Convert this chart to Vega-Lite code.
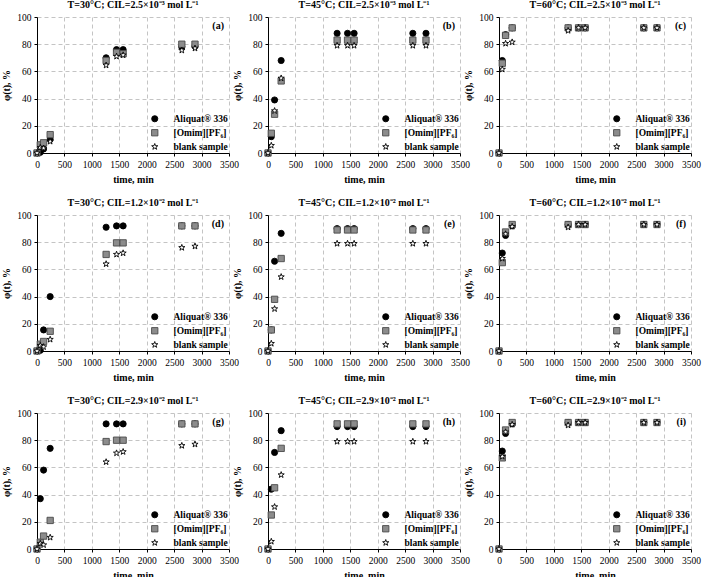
{
  "$schema": "https://vega.github.io/schema/vega-lite/v6.json",
  "padding": {"left": 1, "top": 0, "right": 5, "bottom": 0},
  "background": "white",
  "datasets": {
    "phi": [
      {"panel":"a","sample":"Aliquat® 336","time":0,"phi":0},{"panel":"a","sample":"Aliquat® 336","time":60,"phi":0.5},{"panel":"a","sample":"Aliquat® 336","time":120,"phi":3},{"panel":"a","sample":"Aliquat® 336","time":240,"phi":10},{"panel":"a","sample":"Aliquat® 336","time":1260,"phi":70},{"panel":"a","sample":"Aliquat® 336","time":1450,"phi":76},{"panel":"a","sample":"Aliquat® 336","time":1570,"phi":76},{"panel":"a","sample":"Aliquat® 336","time":2640,"phi":78},{"panel":"a","sample":"Aliquat® 336","time":2880,"phi":78.5},
      {"panel":"a","sample":"[Omim][PF₆]","time":0,"phi":0},{"panel":"a","sample":"[Omim][PF₆]","time":60,"phi":6},{"panel":"a","sample":"[Omim][PF₆]","time":120,"phi":7.5},{"panel":"a","sample":"[Omim][PF₆]","time":240,"phi":13.5},{"panel":"a","sample":"[Omim][PF₆]","time":1260,"phi":68},{"panel":"a","sample":"[Omim][PF₆]","time":1450,"phi":74},{"panel":"a","sample":"[Omim][PF₆]","time":1570,"phi":73},{"panel":"a","sample":"[Omim][PF₆]","time":2640,"phi":80},{"panel":"a","sample":"[Omim][PF₆]","time":2880,"phi":80},
      {"panel":"a","sample":"blank sample","time":0,"phi":0},{"panel":"a","sample":"blank sample","time":60,"phi":4},{"panel":"a","sample":"blank sample","time":120,"phi":3.5},{"panel":"a","sample":"blank sample","time":240,"phi":8.5},{"panel":"a","sample":"blank sample","time":1260,"phi":64.5},{"panel":"a","sample":"blank sample","time":1450,"phi":71},{"panel":"a","sample":"blank sample","time":1570,"phi":72},{"panel":"a","sample":"blank sample","time":2640,"phi":75.5},{"panel":"a","sample":"blank sample","time":2880,"phi":77},

      {"panel":"b","sample":"Aliquat® 336","time":0,"phi":0},{"panel":"b","sample":"Aliquat® 336","time":60,"phi":12},{"panel":"b","sample":"Aliquat® 336","time":120,"phi":39},{"panel":"b","sample":"Aliquat® 336","time":240,"phi":68},{"panel":"b","sample":"Aliquat® 336","time":1260,"phi":88},{"panel":"b","sample":"Aliquat® 336","time":1450,"phi":88},{"panel":"b","sample":"Aliquat® 336","time":1570,"phi":88},{"panel":"b","sample":"Aliquat® 336","time":2640,"phi":88},{"panel":"b","sample":"Aliquat® 336","time":2880,"phi":88},
      {"panel":"b","sample":"[Omim][PF₆]","time":0,"phi":0},{"panel":"b","sample":"[Omim][PF₆]","time":60,"phi":14.5},{"panel":"b","sample":"[Omim][PF₆]","time":120,"phi":28.5},{"panel":"b","sample":"[Omim][PF₆]","time":240,"phi":53},{"panel":"b","sample":"[Omim][PF₆]","time":1260,"phi":83},{"panel":"b","sample":"[Omim][PF₆]","time":1450,"phi":83},{"panel":"b","sample":"[Omim][PF₆]","time":1570,"phi":83},{"panel":"b","sample":"[Omim][PF₆]","time":2640,"phi":83},{"panel":"b","sample":"[Omim][PF₆]","time":2880,"phi":83},
      {"panel":"b","sample":"blank sample","time":0,"phi":0},{"panel":"b","sample":"blank sample","time":60,"phi":5.5},{"panel":"b","sample":"blank sample","time":120,"phi":31},{"panel":"b","sample":"blank sample","time":240,"phi":55},{"panel":"b","sample":"blank sample","time":1260,"phi":79},{"panel":"b","sample":"blank sample","time":1450,"phi":79},{"panel":"b","sample":"blank sample","time":1570,"phi":79},{"panel":"b","sample":"blank sample","time":2640,"phi":79},{"panel":"b","sample":"blank sample","time":2880,"phi":79},

      {"panel":"c","sample":"Aliquat® 336","time":0,"phi":0},{"panel":"c","sample":"Aliquat® 336","time":60,"phi":68},{"panel":"c","sample":"Aliquat® 336","time":120,"phi":87},{"panel":"c","sample":"Aliquat® 336","time":240,"phi":92},{"panel":"c","sample":"Aliquat® 336","time":1260,"phi":92},{"panel":"c","sample":"Aliquat® 336","time":1450,"phi":92},{"panel":"c","sample":"Aliquat® 336","time":1570,"phi":92},{"panel":"c","sample":"Aliquat® 336","time":2640,"phi":92},{"panel":"c","sample":"Aliquat® 336","time":2880,"phi":92},
      {"panel":"c","sample":"[Omim][PF₆]","time":0,"phi":0},{"panel":"c","sample":"[Omim][PF₆]","time":60,"phi":66},{"panel":"c","sample":"[Omim][PF₆]","time":120,"phi":86.5},{"panel":"c","sample":"[Omim][PF₆]","time":240,"phi":92},{"panel":"c","sample":"[Omim][PF₆]","time":1260,"phi":92},{"panel":"c","sample":"[Omim][PF₆]","time":1450,"phi":92},{"panel":"c","sample":"[Omim][PF₆]","time":1570,"phi":92},{"panel":"c","sample":"[Omim][PF₆]","time":2640,"phi":92},{"panel":"c","sample":"[Omim][PF₆]","time":2880,"phi":92},
      {"panel":"c","sample":"blank sample","time":0,"phi":0},{"panel":"c","sample":"blank sample","time":60,"phi":61.5},{"panel":"c","sample":"blank sample","time":120,"phi":80.5},{"panel":"c","sample":"blank sample","time":240,"phi":81.5},{"panel":"c","sample":"blank sample","time":1260,"phi":90},{"panel":"c","sample":"blank sample","time":1450,"phi":92},{"panel":"c","sample":"blank sample","time":1570,"phi":92},{"panel":"c","sample":"blank sample","time":2640,"phi":92},{"panel":"c","sample":"blank sample","time":2880,"phi":92},

      {"panel":"d","sample":"Aliquat® 336","time":0,"phi":0},{"panel":"d","sample":"Aliquat® 336","time":60,"phi":0.5},{"panel":"d","sample":"Aliquat® 336","time":120,"phi":15.5},{"panel":"d","sample":"Aliquat® 336","time":240,"phi":40},{"panel":"d","sample":"Aliquat® 336","time":1260,"phi":91},{"panel":"d","sample":"Aliquat® 336","time":1450,"phi":92},{"panel":"d","sample":"Aliquat® 336","time":1570,"phi":92},{"panel":"d","sample":"Aliquat® 336","time":2640,"phi":92},{"panel":"d","sample":"Aliquat® 336","time":2880,"phi":92},
      {"panel":"d","sample":"[Omim][PF₆]","time":0,"phi":0},{"panel":"d","sample":"[Omim][PF₆]","time":60,"phi":5},{"panel":"d","sample":"[Omim][PF₆]","time":120,"phi":7},{"panel":"d","sample":"[Omim][PF₆]","time":240,"phi":14.5},{"panel":"d","sample":"[Omim][PF₆]","time":1260,"phi":71},{"panel":"d","sample":"[Omim][PF₆]","time":1450,"phi":79.5},{"panel":"d","sample":"[Omim][PF₆]","time":1570,"phi":79.5},{"panel":"d","sample":"[Omim][PF₆]","time":2640,"phi":92},{"panel":"d","sample":"[Omim][PF₆]","time":2880,"phi":92},
      {"panel":"d","sample":"blank sample","time":0,"phi":0},{"panel":"d","sample":"blank sample","time":60,"phi":4},{"panel":"d","sample":"blank sample","time":120,"phi":3},{"panel":"d","sample":"blank sample","time":240,"phi":8.5},{"panel":"d","sample":"blank sample","time":1260,"phi":64},{"panel":"d","sample":"blank sample","time":1450,"phi":71},{"panel":"d","sample":"blank sample","time":1570,"phi":72},{"panel":"d","sample":"blank sample","time":2640,"phi":76},{"panel":"d","sample":"blank sample","time":2880,"phi":77},

      {"panel":"e","sample":"Aliquat® 336","time":0,"phi":0},{"panel":"e","sample":"Aliquat® 336","time":60,"phi":15.5},{"panel":"e","sample":"Aliquat® 336","time":120,"phi":66},{"panel":"e","sample":"Aliquat® 336","time":240,"phi":86.5},{"panel":"e","sample":"Aliquat® 336","time":1260,"phi":90},{"panel":"e","sample":"Aliquat® 336","time":1450,"phi":90},{"panel":"e","sample":"Aliquat® 336","time":1570,"phi":90},{"panel":"e","sample":"Aliquat® 336","time":2640,"phi":90},{"panel":"e","sample":"Aliquat® 336","time":2880,"phi":90},
      {"panel":"e","sample":"[Omim][PF₆]","time":0,"phi":0},{"panel":"e","sample":"[Omim][PF₆]","time":60,"phi":15.5},{"panel":"e","sample":"[Omim][PF₆]","time":120,"phi":38},{"panel":"e","sample":"[Omim][PF₆]","time":240,"phi":68},{"panel":"e","sample":"[Omim][PF₆]","time":1260,"phi":89},{"panel":"e","sample":"[Omim][PF₆]","time":1450,"phi":89},{"panel":"e","sample":"[Omim][PF₆]","time":1570,"phi":89},{"panel":"e","sample":"[Omim][PF₆]","time":2640,"phi":89},{"panel":"e","sample":"[Omim][PF₆]","time":2880,"phi":89},
      {"panel":"e","sample":"blank sample","time":0,"phi":0},{"panel":"e","sample":"blank sample","time":60,"phi":5.5},{"panel":"e","sample":"blank sample","time":120,"phi":31},{"panel":"e","sample":"blank sample","time":240,"phi":54.5},{"panel":"e","sample":"blank sample","time":1260,"phi":79},{"panel":"e","sample":"blank sample","time":1450,"phi":79},{"panel":"e","sample":"blank sample","time":1570,"phi":79},{"panel":"e","sample":"blank sample","time":2640,"phi":79},{"panel":"e","sample":"blank sample","time":2880,"phi":79},

      {"panel":"f","sample":"Aliquat® 336","time":0,"phi":0},{"panel":"f","sample":"Aliquat® 336","time":60,"phi":72},{"panel":"f","sample":"Aliquat® 336","time":120,"phi":85},{"panel":"f","sample":"Aliquat® 336","time":240,"phi":92},{"panel":"f","sample":"Aliquat® 336","time":1260,"phi":93},{"panel":"f","sample":"Aliquat® 336","time":1450,"phi":93},{"panel":"f","sample":"Aliquat® 336","time":1570,"phi":93},{"panel":"f","sample":"Aliquat® 336","time":2640,"phi":93},{"panel":"f","sample":"Aliquat® 336","time":2880,"phi":93},
      {"panel":"f","sample":"[Omim][PF₆]","time":0,"phi":0},{"panel":"f","sample":"[Omim][PF₆]","time":60,"phi":65},{"panel":"f","sample":"[Omim][PF₆]","time":120,"phi":87.5},{"panel":"f","sample":"[Omim][PF₆]","time":240,"phi":93},{"panel":"f","sample":"[Omim][PF₆]","time":1260,"phi":93},{"panel":"f","sample":"[Omim][PF₆]","time":1450,"phi":93},{"panel":"f","sample":"[Omim][PF₆]","time":1570,"phi":93},{"panel":"f","sample":"[Omim][PF₆]","time":2640,"phi":93},{"panel":"f","sample":"[Omim][PF₆]","time":2880,"phi":93},
      {"panel":"f","sample":"blank sample","time":0,"phi":0},{"panel":"f","sample":"blank sample","time":60,"phi":68},{"panel":"f","sample":"blank sample","time":120,"phi":86},{"panel":"f","sample":"blank sample","time":240,"phi":91.5},{"panel":"f","sample":"blank sample","time":1260,"phi":91},{"panel":"f","sample":"blank sample","time":1450,"phi":93},{"panel":"f","sample":"blank sample","time":1570,"phi":93},{"panel":"f","sample":"blank sample","time":2640,"phi":93},{"panel":"f","sample":"blank sample","time":2880,"phi":93},

      {"panel":"g","sample":"Aliquat® 336","time":0,"phi":0},{"panel":"g","sample":"Aliquat® 336","time":60,"phi":37},{"panel":"g","sample":"Aliquat® 336","time":120,"phi":58},{"panel":"g","sample":"Aliquat® 336","time":240,"phi":74},{"panel":"g","sample":"Aliquat® 336","time":1260,"phi":92},{"panel":"g","sample":"Aliquat® 336","time":1450,"phi":92},{"panel":"g","sample":"Aliquat® 336","time":1570,"phi":92},{"panel":"g","sample":"Aliquat® 336","time":2640,"phi":92},{"panel":"g","sample":"Aliquat® 336","time":2880,"phi":92},
      {"panel":"g","sample":"[Omim][PF₆]","time":0,"phi":0},{"panel":"g","sample":"[Omim][PF₆]","time":60,"phi":5},{"panel":"g","sample":"[Omim][PF₆]","time":120,"phi":9.5},{"panel":"g","sample":"[Omim][PF₆]","time":240,"phi":21},{"panel":"g","sample":"[Omim][PF₆]","time":1260,"phi":79},{"panel":"g","sample":"[Omim][PF₆]","time":1450,"phi":80},{"panel":"g","sample":"[Omim][PF₆]","time":1570,"phi":80},{"panel":"g","sample":"[Omim][PF₆]","time":2640,"phi":92},{"panel":"g","sample":"[Omim][PF₆]","time":2880,"phi":92},
      {"panel":"g","sample":"blank sample","time":0,"phi":0},{"panel":"g","sample":"blank sample","time":60,"phi":4},{"panel":"g","sample":"blank sample","time":120,"phi":3},{"panel":"g","sample":"blank sample","time":240,"phi":8.5},{"panel":"g","sample":"blank sample","time":1260,"phi":64},{"panel":"g","sample":"blank sample","time":1450,"phi":70.5},{"panel":"g","sample":"blank sample","time":1570,"phi":71.5},{"panel":"g","sample":"blank sample","time":2640,"phi":76},{"panel":"g","sample":"blank sample","time":2880,"phi":77},

      {"panel":"h","sample":"Aliquat® 336","time":0,"phi":0},{"panel":"h","sample":"Aliquat® 336","time":60,"phi":44},{"panel":"h","sample":"Aliquat® 336","time":120,"phi":71},{"panel":"h","sample":"Aliquat® 336","time":240,"phi":87},{"panel":"h","sample":"Aliquat® 336","time":1260,"phi":90},{"panel":"h","sample":"Aliquat® 336","time":1450,"phi":90},{"panel":"h","sample":"Aliquat® 336","time":1570,"phi":90},{"panel":"h","sample":"Aliquat® 336","time":2640,"phi":90},{"panel":"h","sample":"Aliquat® 336","time":2880,"phi":90},
      {"panel":"h","sample":"[Omim][PF₆]","time":0,"phi":0},{"panel":"h","sample":"[Omim][PF₆]","time":60,"phi":25},{"panel":"h","sample":"[Omim][PF₆]","time":120,"phi":45},{"panel":"h","sample":"[Omim][PF₆]","time":240,"phi":74},{"panel":"h","sample":"[Omim][PF₆]","time":1260,"phi":92},{"panel":"h","sample":"[Omim][PF₆]","time":1450,"phi":92},{"panel":"h","sample":"[Omim][PF₆]","time":1570,"phi":92},{"panel":"h","sample":"[Omim][PF₆]","time":2640,"phi":92},{"panel":"h","sample":"[Omim][PF₆]","time":2880,"phi":92},
      {"panel":"h","sample":"blank sample","time":0,"phi":0},{"panel":"h","sample":"blank sample","time":60,"phi":5.5},{"panel":"h","sample":"blank sample","time":120,"phi":31},{"panel":"h","sample":"blank sample","time":240,"phi":54.5},{"panel":"h","sample":"blank sample","time":1260,"phi":79},{"panel":"h","sample":"blank sample","time":1450,"phi":79},{"panel":"h","sample":"blank sample","time":1570,"phi":79},{"panel":"h","sample":"blank sample","time":2640,"phi":79},{"panel":"h","sample":"blank sample","time":2880,"phi":79},

      {"panel":"i","sample":"Aliquat® 336","time":0,"phi":0},{"panel":"i","sample":"Aliquat® 336","time":60,"phi":72},{"panel":"i","sample":"Aliquat® 336","time":120,"phi":85},{"panel":"i","sample":"Aliquat® 336","time":240,"phi":92},{"panel":"i","sample":"Aliquat® 336","time":1260,"phi":93},{"panel":"i","sample":"Aliquat® 336","time":1450,"phi":93},{"panel":"i","sample":"Aliquat® 336","time":1570,"phi":93},{"panel":"i","sample":"Aliquat® 336","time":2640,"phi":93},{"panel":"i","sample":"Aliquat® 336","time":2880,"phi":93},
      {"panel":"i","sample":"[Omim][PF₆]","time":0,"phi":0},{"panel":"i","sample":"[Omim][PF₆]","time":60,"phi":67},{"panel":"i","sample":"[Omim][PF₆]","time":120,"phi":87.5},{"panel":"i","sample":"[Omim][PF₆]","time":240,"phi":93},{"panel":"i","sample":"[Omim][PF₆]","time":1260,"phi":93},{"panel":"i","sample":"[Omim][PF₆]","time":1450,"phi":93},{"panel":"i","sample":"[Omim][PF₆]","time":1570,"phi":93},{"panel":"i","sample":"[Omim][PF₆]","time":2640,"phi":93},{"panel":"i","sample":"[Omim][PF₆]","time":2880,"phi":93},
      {"panel":"i","sample":"blank sample","time":0,"phi":0},{"panel":"i","sample":"blank sample","time":60,"phi":68},{"panel":"i","sample":"blank sample","time":120,"phi":86},{"panel":"i","sample":"blank sample","time":240,"phi":91.5},{"panel":"i","sample":"blank sample","time":1260,"phi":91},{"panel":"i","sample":"blank sample","time":1450,"phi":93},{"panel":"i","sample":"blank sample","time":1570,"phi":93},{"panel":"i","sample":"blank sample","time":2640,"phi":93},{"panel":"i","sample":"blank sample","time":2880,"phi":93}
    ]
  },
  "columns": 3,
  "bounds": "flush",
  "spacing": {"row": 62, "column": 39},
  "resolve": {"legend": {"shape": "independent", "fill": "independent", "stroke": "independent", "size": "independent"}},
  "concat": [
    {"title": "T=30°C; CIL=2.5×10⁻³ mol L⁻¹", "width": 192, "height": 136, "layer": [
      {"data": {"name": "phi"}, "transform": [{"filter": "datum.panel == 'a'"}], "mark": {"type": "point", "filled": true, "opacity": 1, "strokeWidth": 0.9},
       "encoding": {
         "x": {"field": "time", "type": "quantitative", "scale": {"domain": [0, 3500]}, "axis": {"values": [0,500,1000,1500,2000,2500,3000,3500], "tickCount": 20, "title": "time, min"}},
         "y": {"field": "phi", "type": "quantitative", "scale": {"domain": [0, 100]}, "axis": {"values": [0,20,40,60,80,100], "tickCount": 20, "title": "φ(t), %"}},
         "shape": {"field": "sample", "type": "nominal", "sort": null, "scale": {"domain": ["Aliquat® 336", "[Omim][PF₆]", "blank sample"], "range": ["circle", "square", "M0,-1L0.235,-0.324L0.951,-0.309L0.38,0.124L0.588,0.809L0,0.4L-0.588,0.809L-0.38,0.124L-0.951,-0.309L-0.235,-0.324Z"]}, "legend": {"title": null}},
         "fill": {"field": "sample", "type": "nominal", "sort": null, "scale": {"domain": ["Aliquat® 336", "[Omim][PF₆]", "blank sample"], "range": ["#000000", "#8c8c8c", "#ffffff"]}, "legend": {"title": null}},
         "stroke": {"field": "sample", "type": "nominal", "sort": null, "scale": {"domain": ["Aliquat® 336", "[Omim][PF₆]", "blank sample"], "range": ["#000000", "#4a4a4a", "#000000"]}, "legend": {"title": null}},
         "size": {"field": "sample", "type": "nominal", "sort": null, "scale": {"domain": ["Aliquat® 336", "[Omim][PF₆]", "blank sample"], "range": [38, 42, 85]}, "legend": {"title": null}}
       }},
      {"data": {"values": [{"tag": "(a)"}]}, "mark": {"type": "text", "align": "right", "baseline": "top", "dx": -5, "dy": 4, "fontWeight": "bold", "fontSize": 10, "font": "Liberation Serif"},
       "encoding": {"x": {"datum": 3500, "axis": {"values": [0,500,1000,1500,2000,2500,3000,3500], "tickCount": 20, "title": "time, min"}}, "y": {"datum": 100, "axis": {"values": [0,20,40,60,80,100], "tickCount": 20, "title": "φ(t), %"}}, "text": {"field": "tag"}}}
    ]},
    {"title": "T=45°C; CIL=2.5×10⁻³ mol L⁻¹", "width": 192, "height": 136, "layer": [
      {"data": {"name": "phi"}, "transform": [{"filter": "datum.panel == 'b'"}], "mark": {"type": "point", "filled": true, "opacity": 1, "strokeWidth": 0.9},
       "encoding": {
         "x": {"field": "time", "type": "quantitative", "scale": {"domain": [0, 3500]}, "axis": {"values": [0,500,1000,1500,2000,2500,3000,3500], "tickCount": 20, "title": "time, min"}},
         "y": {"field": "phi", "type": "quantitative", "scale": {"domain": [0, 100]}, "axis": {"values": [0,20,40,60,80,100], "tickCount": 20, "title": "φ(t), %"}},
         "shape": {"field": "sample", "type": "nominal", "sort": null, "scale": {"domain": ["Aliquat® 336", "[Omim][PF₆]", "blank sample"], "range": ["circle", "square", "M0,-1L0.235,-0.324L0.951,-0.309L0.38,0.124L0.588,0.809L0,0.4L-0.588,0.809L-0.38,0.124L-0.951,-0.309L-0.235,-0.324Z"]}, "legend": {"title": null}},
         "fill": {"field": "sample", "type": "nominal", "sort": null, "scale": {"domain": ["Aliquat® 336", "[Omim][PF₆]", "blank sample"], "range": ["#000000", "#8c8c8c", "#ffffff"]}, "legend": {"title": null}},
         "stroke": {"field": "sample", "type": "nominal", "sort": null, "scale": {"domain": ["Aliquat® 336", "[Omim][PF₆]", "blank sample"], "range": ["#000000", "#4a4a4a", "#000000"]}, "legend": {"title": null}},
         "size": {"field": "sample", "type": "nominal", "sort": null, "scale": {"domain": ["Aliquat® 336", "[Omim][PF₆]", "blank sample"], "range": [38, 42, 85]}, "legend": {"title": null}}
       }},
      {"data": {"values": [{"tag": "(b)"}]}, "mark": {"type": "text", "align": "right", "baseline": "top", "dx": -5, "dy": 4, "fontWeight": "bold", "fontSize": 10, "font": "Liberation Serif"},
       "encoding": {"x": {"datum": 3500, "axis": {"values": [0,500,1000,1500,2000,2500,3000,3500], "tickCount": 20, "title": "time, min"}}, "y": {"datum": 100, "axis": {"values": [0,20,40,60,80,100], "tickCount": 20, "title": "φ(t), %"}}, "text": {"field": "tag"}}}
    ]},
    {"title": "T=60°C; CIL=2.5×10⁻³ mol L⁻¹", "width": 192, "height": 136, "layer": [
      {"data": {"name": "phi"}, "transform": [{"filter": "datum.panel == 'c'"}], "mark": {"type": "point", "filled": true, "opacity": 1, "strokeWidth": 0.9},
       "encoding": {
         "x": {"field": "time", "type": "quantitative", "scale": {"domain": [0, 3500]}, "axis": {"values": [0,500,1000,1500,2000,2500,3000,3500], "tickCount": 20, "title": "time, min"}},
         "y": {"field": "phi", "type": "quantitative", "scale": {"domain": [0, 100]}, "axis": {"values": [0,20,40,60,80,100], "tickCount": 20, "title": "φ(t), %"}},
         "shape": {"field": "sample", "type": "nominal", "sort": null, "scale": {"domain": ["Aliquat® 336", "[Omim][PF₆]", "blank sample"], "range": ["circle", "square", "M0,-1L0.235,-0.324L0.951,-0.309L0.38,0.124L0.588,0.809L0,0.4L-0.588,0.809L-0.38,0.124L-0.951,-0.309L-0.235,-0.324Z"]}, "legend": {"title": null}},
         "fill": {"field": "sample", "type": "nominal", "sort": null, "scale": {"domain": ["Aliquat® 336", "[Omim][PF₆]", "blank sample"], "range": ["#000000", "#8c8c8c", "#ffffff"]}, "legend": {"title": null}},
         "stroke": {"field": "sample", "type": "nominal", "sort": null, "scale": {"domain": ["Aliquat® 336", "[Omim][PF₆]", "blank sample"], "range": ["#000000", "#4a4a4a", "#000000"]}, "legend": {"title": null}},
         "size": {"field": "sample", "type": "nominal", "sort": null, "scale": {"domain": ["Aliquat® 336", "[Omim][PF₆]", "blank sample"], "range": [38, 42, 85]}, "legend": {"title": null}}
       }},
      {"data": {"values": [{"tag": "(c)"}]}, "mark": {"type": "text", "align": "right", "baseline": "top", "dx": -5, "dy": 4, "fontWeight": "bold", "fontSize": 10, "font": "Liberation Serif"},
       "encoding": {"x": {"datum": 3500, "axis": {"values": [0,500,1000,1500,2000,2500,3000,3500], "tickCount": 20, "title": "time, min"}}, "y": {"datum": 100, "axis": {"values": [0,20,40,60,80,100], "tickCount": 20, "title": "φ(t), %"}}, "text": {"field": "tag"}}}
    ]},
    {"title": "T=30°C; CIL=1.2×10⁻² mol L⁻¹", "width": 192, "height": 136, "layer": [
      {"data": {"name": "phi"}, "transform": [{"filter": "datum.panel == 'd'"}], "mark": {"type": "point", "filled": true, "opacity": 1, "strokeWidth": 0.9},
       "encoding": {
         "x": {"field": "time", "type": "quantitative", "scale": {"domain": [0, 3500]}, "axis": {"values": [0,500,1000,1500,2000,2500,3000,3500], "tickCount": 20, "title": "time, min"}},
         "y": {"field": "phi", "type": "quantitative", "scale": {"domain": [0, 100]}, "axis": {"values": [0,20,40,60,80,100], "tickCount": 20, "title": "φ(t), %"}},
         "shape": {"field": "sample", "type": "nominal", "sort": null, "scale": {"domain": ["Aliquat® 336", "[Omim][PF₆]", "blank sample"], "range": ["circle", "square", "M0,-1L0.235,-0.324L0.951,-0.309L0.38,0.124L0.588,0.809L0,0.4L-0.588,0.809L-0.38,0.124L-0.951,-0.309L-0.235,-0.324Z"]}, "legend": {"title": null}},
         "fill": {"field": "sample", "type": "nominal", "sort": null, "scale": {"domain": ["Aliquat® 336", "[Omim][PF₆]", "blank sample"], "range": ["#000000", "#8c8c8c", "#ffffff"]}, "legend": {"title": null}},
         "stroke": {"field": "sample", "type": "nominal", "sort": null, "scale": {"domain": ["Aliquat® 336", "[Omim][PF₆]", "blank sample"], "range": ["#000000", "#4a4a4a", "#000000"]}, "legend": {"title": null}},
         "size": {"field": "sample", "type": "nominal", "sort": null, "scale": {"domain": ["Aliquat® 336", "[Omim][PF₆]", "blank sample"], "range": [38, 42, 85]}, "legend": {"title": null}}
       }},
      {"data": {"values": [{"tag": "(d)"}]}, "mark": {"type": "text", "align": "right", "baseline": "top", "dx": -5, "dy": 4, "fontWeight": "bold", "fontSize": 10, "font": "Liberation Serif"},
       "encoding": {"x": {"datum": 3500, "axis": {"values": [0,500,1000,1500,2000,2500,3000,3500], "tickCount": 20, "title": "time, min"}}, "y": {"datum": 100, "axis": {"values": [0,20,40,60,80,100], "tickCount": 20, "title": "φ(t), %"}}, "text": {"field": "tag"}}}
    ]},
    {"title": "T=45°C; CIL=1.2×10⁻² mol L⁻¹", "width": 192, "height": 136, "layer": [
      {"data": {"name": "phi"}, "transform": [{"filter": "datum.panel == 'e'"}], "mark": {"type": "point", "filled": true, "opacity": 1, "strokeWidth": 0.9},
       "encoding": {
         "x": {"field": "time", "type": "quantitative", "scale": {"domain": [0, 3500]}, "axis": {"values": [0,500,1000,1500,2000,2500,3000,3500], "tickCount": 20, "title": "time, min"}},
         "y": {"field": "phi", "type": "quantitative", "scale": {"domain": [0, 100]}, "axis": {"values": [0,20,40,60,80,100], "tickCount": 20, "title": "φ(t), %"}},
         "shape": {"field": "sample", "type": "nominal", "sort": null, "scale": {"domain": ["Aliquat® 336", "[Omim][PF₆]", "blank sample"], "range": ["circle", "square", "M0,-1L0.235,-0.324L0.951,-0.309L0.38,0.124L0.588,0.809L0,0.4L-0.588,0.809L-0.38,0.124L-0.951,-0.309L-0.235,-0.324Z"]}, "legend": {"title": null}},
         "fill": {"field": "sample", "type": "nominal", "sort": null, "scale": {"domain": ["Aliquat® 336", "[Omim][PF₆]", "blank sample"], "range": ["#000000", "#8c8c8c", "#ffffff"]}, "legend": {"title": null}},
         "stroke": {"field": "sample", "type": "nominal", "sort": null, "scale": {"domain": ["Aliquat® 336", "[Omim][PF₆]", "blank sample"], "range": ["#000000", "#4a4a4a", "#000000"]}, "legend": {"title": null}},
         "size": {"field": "sample", "type": "nominal", "sort": null, "scale": {"domain": ["Aliquat® 336", "[Omim][PF₆]", "blank sample"], "range": [38, 42, 85]}, "legend": {"title": null}}
       }},
      {"data": {"values": [{"tag": "(e)"}]}, "mark": {"type": "text", "align": "right", "baseline": "top", "dx": -5, "dy": 4, "fontWeight": "bold", "fontSize": 10, "font": "Liberation Serif"},
       "encoding": {"x": {"datum": 3500, "axis": {"values": [0,500,1000,1500,2000,2500,3000,3500], "tickCount": 20, "title": "time, min"}}, "y": {"datum": 100, "axis": {"values": [0,20,40,60,80,100], "tickCount": 20, "title": "φ(t), %"}}, "text": {"field": "tag"}}}
    ]},
    {"title": "T=60°C; CIL=1.2×10⁻² mol L⁻¹", "width": 192, "height": 136, "layer": [
      {"data": {"name": "phi"}, "transform": [{"filter": "datum.panel == 'f'"}], "mark": {"type": "point", "filled": true, "opacity": 1, "strokeWidth": 0.9},
       "encoding": {
         "x": {"field": "time", "type": "quantitative", "scale": {"domain": [0, 3500]}, "axis": {"values": [0,500,1000,1500,2000,2500,3000,3500], "tickCount": 20, "title": "time, min"}},
         "y": {"field": "phi", "type": "quantitative", "scale": {"domain": [0, 100]}, "axis": {"values": [0,20,40,60,80,100], "tickCount": 20, "title": "φ(t), %"}},
         "shape": {"field": "sample", "type": "nominal", "sort": null, "scale": {"domain": ["Aliquat® 336", "[Omim][PF₆]", "blank sample"], "range": ["circle", "square", "M0,-1L0.235,-0.324L0.951,-0.309L0.38,0.124L0.588,0.809L0,0.4L-0.588,0.809L-0.38,0.124L-0.951,-0.309L-0.235,-0.324Z"]}, "legend": {"title": null}},
         "fill": {"field": "sample", "type": "nominal", "sort": null, "scale": {"domain": ["Aliquat® 336", "[Omim][PF₆]", "blank sample"], "range": ["#000000", "#8c8c8c", "#ffffff"]}, "legend": {"title": null}},
         "stroke": {"field": "sample", "type": "nominal", "sort": null, "scale": {"domain": ["Aliquat® 336", "[Omim][PF₆]", "blank sample"], "range": ["#000000", "#4a4a4a", "#000000"]}, "legend": {"title": null}},
         "size": {"field": "sample", "type": "nominal", "sort": null, "scale": {"domain": ["Aliquat® 336", "[Omim][PF₆]", "blank sample"], "range": [38, 42, 85]}, "legend": {"title": null}}
       }},
      {"data": {"values": [{"tag": "(f)"}]}, "mark": {"type": "text", "align": "right", "baseline": "top", "dx": -5, "dy": 4, "fontWeight": "bold", "fontSize": 10, "font": "Liberation Serif"},
       "encoding": {"x": {"datum": 3500, "axis": {"values": [0,500,1000,1500,2000,2500,3000,3500], "tickCount": 20, "title": "time, min"}}, "y": {"datum": 100, "axis": {"values": [0,20,40,60,80,100], "tickCount": 20, "title": "φ(t), %"}}, "text": {"field": "tag"}}}
    ]},
    {"title": "T=30°C; CIL=2.9×10⁻² mol L⁻¹", "width": 192, "height": 136, "layer": [
      {"data": {"name": "phi"}, "transform": [{"filter": "datum.panel == 'g'"}], "mark": {"type": "point", "filled": true, "opacity": 1, "strokeWidth": 0.9},
       "encoding": {
         "x": {"field": "time", "type": "quantitative", "scale": {"domain": [0, 3500]}, "axis": {"values": [0,500,1000,1500,2000,2500,3000,3500], "tickCount": 20, "title": "time, min"}},
         "y": {"field": "phi", "type": "quantitative", "scale": {"domain": [0, 100]}, "axis": {"values": [0,20,40,60,80,100], "tickCount": 20, "title": "φ(t), %"}},
         "shape": {"field": "sample", "type": "nominal", "sort": null, "scale": {"domain": ["Aliquat® 336", "[Omim][PF₆]", "blank sample"], "range": ["circle", "square", "M0,-1L0.235,-0.324L0.951,-0.309L0.38,0.124L0.588,0.809L0,0.4L-0.588,0.809L-0.38,0.124L-0.951,-0.309L-0.235,-0.324Z"]}, "legend": {"title": null}},
         "fill": {"field": "sample", "type": "nominal", "sort": null, "scale": {"domain": ["Aliquat® 336", "[Omim][PF₆]", "blank sample"], "range": ["#000000", "#8c8c8c", "#ffffff"]}, "legend": {"title": null}},
         "stroke": {"field": "sample", "type": "nominal", "sort": null, "scale": {"domain": ["Aliquat® 336", "[Omim][PF₆]", "blank sample"], "range": ["#000000", "#4a4a4a", "#000000"]}, "legend": {"title": null}},
         "size": {"field": "sample", "type": "nominal", "sort": null, "scale": {"domain": ["Aliquat® 336", "[Omim][PF₆]", "blank sample"], "range": [38, 42, 85]}, "legend": {"title": null}}
       }},
      {"data": {"values": [{"tag": "(g)"}]}, "mark": {"type": "text", "align": "right", "baseline": "top", "dx": -5, "dy": 4, "fontWeight": "bold", "fontSize": 10, "font": "Liberation Serif"},
       "encoding": {"x": {"datum": 3500, "axis": {"values": [0,500,1000,1500,2000,2500,3000,3500], "tickCount": 20, "title": "time, min"}}, "y": {"datum": 100, "axis": {"values": [0,20,40,60,80,100], "tickCount": 20, "title": "φ(t), %"}}, "text": {"field": "tag"}}}
    ]},
    {"title": "T=45°C; CIL=2.9×10⁻² mol L⁻¹", "width": 192, "height": 136, "layer": [
      {"data": {"name": "phi"}, "transform": [{"filter": "datum.panel == 'h'"}], "mark": {"type": "point", "filled": true, "opacity": 1, "strokeWidth": 0.9},
       "encoding": {
         "x": {"field": "time", "type": "quantitative", "scale": {"domain": [0, 3500]}, "axis": {"values": [0,500,1000,1500,2000,2500,3000,3500], "tickCount": 20, "title": "time, min"}},
         "y": {"field": "phi", "type": "quantitative", "scale": {"domain": [0, 100]}, "axis": {"values": [0,20,40,60,80,100], "tickCount": 20, "title": "φ(t), %"}},
         "shape": {"field": "sample", "type": "nominal", "sort": null, "scale": {"domain": ["Aliquat® 336", "[Omim][PF₆]", "blank sample"], "range": ["circle", "square", "M0,-1L0.235,-0.324L0.951,-0.309L0.38,0.124L0.588,0.809L0,0.4L-0.588,0.809L-0.38,0.124L-0.951,-0.309L-0.235,-0.324Z"]}, "legend": {"title": null}},
         "fill": {"field": "sample", "type": "nominal", "sort": null, "scale": {"domain": ["Aliquat® 336", "[Omim][PF₆]", "blank sample"], "range": ["#000000", "#8c8c8c", "#ffffff"]}, "legend": {"title": null}},
         "stroke": {"field": "sample", "type": "nominal", "sort": null, "scale": {"domain": ["Aliquat® 336", "[Omim][PF₆]", "blank sample"], "range": ["#000000", "#4a4a4a", "#000000"]}, "legend": {"title": null}},
         "size": {"field": "sample", "type": "nominal", "sort": null, "scale": {"domain": ["Aliquat® 336", "[Omim][PF₆]", "blank sample"], "range": [38, 42, 85]}, "legend": {"title": null}}
       }},
      {"data": {"values": [{"tag": "(h)"}]}, "mark": {"type": "text", "align": "right", "baseline": "top", "dx": -5, "dy": 4, "fontWeight": "bold", "fontSize": 10, "font": "Liberation Serif"},
       "encoding": {"x": {"datum": 3500, "axis": {"values": [0,500,1000,1500,2000,2500,3000,3500], "tickCount": 20, "title": "time, min"}}, "y": {"datum": 100, "axis": {"values": [0,20,40,60,80,100], "tickCount": 20, "title": "φ(t), %"}}, "text": {"field": "tag"}}}
    ]},
    {"title": "T=60°C; CIL=2.9×10⁻² mol L⁻¹", "width": 192, "height": 136, "layer": [
      {"data": {"name": "phi"}, "transform": [{"filter": "datum.panel == 'i'"}], "mark": {"type": "point", "filled": true, "opacity": 1, "strokeWidth": 0.9},
       "encoding": {
         "x": {"field": "time", "type": "quantitative", "scale": {"domain": [0, 3500]}, "axis": {"values": [0,500,1000,1500,2000,2500,3000,3500], "tickCount": 20, "title": "time, min"}},
         "y": {"field": "phi", "type": "quantitative", "scale": {"domain": [0, 100]}, "axis": {"values": [0,20,40,60,80,100], "tickCount": 20, "title": "φ(t), %"}},
         "shape": {"field": "sample", "type": "nominal", "sort": null, "scale": {"domain": ["Aliquat® 336", "[Omim][PF₆]", "blank sample"], "range": ["circle", "square", "M0,-1L0.235,-0.324L0.951,-0.309L0.38,0.124L0.588,0.809L0,0.4L-0.588,0.809L-0.38,0.124L-0.951,-0.309L-0.235,-0.324Z"]}, "legend": {"title": null}},
         "fill": {"field": "sample", "type": "nominal", "sort": null, "scale": {"domain": ["Aliquat® 336", "[Omim][PF₆]", "blank sample"], "range": ["#000000", "#8c8c8c", "#ffffff"]}, "legend": {"title": null}},
         "stroke": {"field": "sample", "type": "nominal", "sort": null, "scale": {"domain": ["Aliquat® 336", "[Omim][PF₆]", "blank sample"], "range": ["#000000", "#4a4a4a", "#000000"]}, "legend": {"title": null}},
         "size": {"field": "sample", "type": "nominal", "sort": null, "scale": {"domain": ["Aliquat® 336", "[Omim][PF₆]", "blank sample"], "range": [38, 42, 85]}, "legend": {"title": null}}
       }},
      {"data": {"values": [{"tag": "(i)"}]}, "mark": {"type": "text", "align": "right", "baseline": "top", "dx": -5, "dy": 4, "fontWeight": "bold", "fontSize": 10, "font": "Liberation Serif"},
       "encoding": {"x": {"datum": 3500, "axis": {"values": [0,500,1000,1500,2000,2500,3000,3500], "tickCount": 20, "title": "time, min"}}, "y": {"datum": 100, "axis": {"values": [0,20,40,60,80,100], "tickCount": 20, "title": "φ(t), %"}}, "text": {"field": "tag"}}}
    ]}
  ],
  "config": {
    "font": "Liberation Serif",
    "view": {"stroke": null},
    "title": {"font": "Liberation Serif", "fontWeight": "bold", "fontSize": 10, "color": "#000000", "offset": 2},
    "axis": {
      "labelFont": "Liberation Serif", "labelFontSize": 9.5, "labelColor": "#000000",
      "labelOverlap": false, "format": "d",
      "titleFont": "Liberation Serif", "titleFontWeight": "bold", "titleFontSize": 10, "titleColor": "#000000",
      "domainColor": "#000000", "domainWidth": 1, "tickColor": "#000000", "tickSize": 3,
      "gridColor": "#c4c4c4", "gridDash": [4, 3], "gridWidth": 1
    },
    "axisX": {"labelPadding": 3, "titlePadding": 6, "labelFlush": false},
    "axisY": {"labelPadding": 3, "titlePadding": 5},
    "legend": {
      "orient": "bottom-right", "offset": 1, "padding": 0,
      "labelFont": "Liberation Serif", "labelFontWeight": "bold", "labelFontSize": 9.5, "labelColor": "#000000",
      "labelOffset": 14, "rowPadding": 3, "symbolStrokeWidth": 0.9
    }
  }
}
